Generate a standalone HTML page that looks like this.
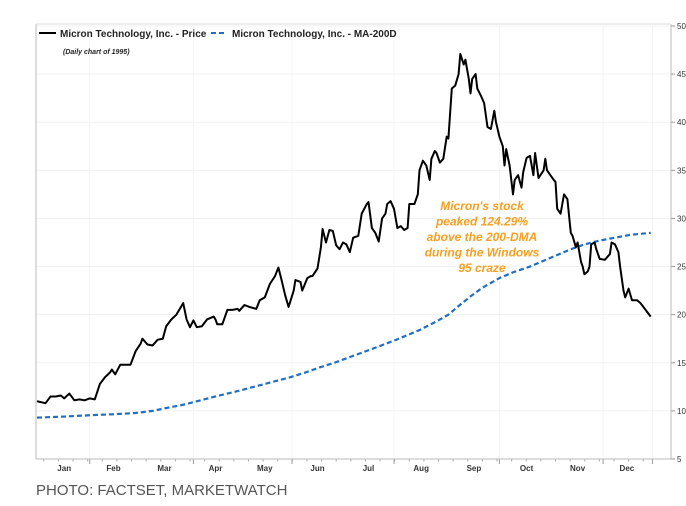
<!DOCTYPE html>
<html><head><meta charset="utf-8"><style>
body{margin:0;background:#fff;width:686px;height:506px;overflow:hidden;font-family:"Liberation Sans",sans-serif}
svg{position:absolute;left:0;top:0}
</style></head><body>
<svg id="chart" width="686" height="506" xmlns="http://www.w3.org/2000/svg"></svg>
<script>
const priceDays=[0,5,8,11,14,16,19,22,25,28,31,34,37,40,43,44,46,49,52,55,58,61,62,65,68,71,74,76,79,82,86,88,90,92,94,97,100,104,105,106,109,112,115,118,119,122,125,129,131,134,137,140,142,144,146,148,151,152,155,156,159,161,162,165,167,168,170,172,174,176,178,180,182,184,186,189,191,194,195,197,199,201,203,205,206,208,210,212,214,216,218,219,222,224,225,227,229,231,232,234,235,237,239,241,242,244,246,248,249,251,252,254,255,256,258,259,261,263,265,267,269,270,272,274,275,276,278,280,281,283,285,286,288,290,292,293,295,298,299,300,302,304,305,306,308,310,312,314,315,317,318,320,321,322,324,325,326,328,329,331,334,337,338,340,342,343,345,346,348,350,353,355,358,361];
const priceValues=[11.0,10.8,11.5,11.5,11.6,11.3,11.8,11.1,11.2,11.1,11.3,11.2,12.8,13.5,14.0,14.3,13.8,14.8,14.8,14.8,16.2,17.0,17.5,16.9,16.8,17.4,17.5,18.8,19.5,20.0,21.2,19.5,18.7,19.4,18.7,18.8,19.5,19.8,19.5,19.0,19.0,20.5,20.5,20.6,20.4,21.0,20.8,20.6,21.5,21.8,23.2,24.0,24.9,23.5,22.0,20.8,22.5,23.6,23.4,22.5,23.8,24.0,24.0,24.8,27.0,28.9,27.5,28.8,28.7,27.2,26.8,27.5,27.3,26.5,28.0,28.2,30.5,31.5,31.7,29.0,28.5,27.6,30.0,30.5,31.5,31.8,31.0,29.0,29.2,28.8,29.0,31.5,31.5,32.5,35.0,36.0,35.5,34.0,36.2,37.0,36.8,35.8,36.2,38.5,38.3,43.5,43.8,45.0,47.1,46.0,46.5,44.5,43.0,44.5,45.0,43.5,42.8,42.0,39.5,39.3,41.2,40.0,38.5,37.5,35.5,37.2,35.5,32.5,34.0,34.5,33.2,34.8,36.3,36.5,34.5,36.8,34.2,35.0,36.2,35.0,34.5,34.0,33.8,31.0,30.5,32.5,32.0,28.5,28.2,27.0,27.5,25.5,25.0,24.2,24.5,25.0,27.3,27.5,26.8,25.8,25.7,26.3,27.5,27.3,26.5,25.0,22.5,21.8,22.7,21.5,21.5,21.2,20.5,19.8];
const maDays=[0,15,31,45,58,68,76,85,92,105,119,134,149,158,166,175,181,195,210,225,235,242,248,255,262,272,280,290,302,314,322,331,340,349,361];
const maValues=[9.3,9.4,9.55,9.65,9.78,10.0,10.3,10.6,10.9,11.5,12.1,12.8,13.5,14.0,14.5,15.0,15.4,16.3,17.3,18.4,19.3,20.0,20.9,21.9,22.8,23.8,24.4,25.0,25.9,26.8,27.3,27.7,28.0,28.3,28.5];
const yTicks=[5,10,15,20,25,30,35,40,45,50];
const monthLabels=["Jan","Feb","Mar","Apr","May","Jun","Jul","Aug","Sep","Oct","Nov","Dec"];
const monthLabelDays=[16,45,75,105,134,165,195,226,257,288,318,347];
const majorTickDays=[31,92,150,210,272,333,362];

const L=36,R=671,T=26,B=459;
const x=d=>37+d*1.7;
const y=v=>B-(v-5)/45*(B-T);
const svg=document.getElementById('chart');
const NS='http://www.w3.org/2000/svg';
function mk(tag,attrs,parent){const e=document.createElementNS(NS,tag);for(const k in attrs)e.setAttribute(k,attrs[k]);(parent||svg).appendChild(e);return e;}

yTicks.forEach(v=>{
  const g=mk('line',{x1:L,x2:R,y1:y(v),y2:y(v),stroke:'#f2f2f2','stroke-width':1});
  
  
  mk('line',{x1:R,x2:R+4,y1:y(v),y2:y(v),stroke:'#999'});
  const t=mk('text',{x:R+6,y:y(v)+3,'font-size':8,fill:'#333'});
  t.textContent=v;
  
  
});
majorTickDays.forEach(d=>{
  const g=mk('line',{x1:x(d),x2:x(d),y1:T,y2:B,stroke:'#f4f4f4'});
  
  
  mk('line',{x1:x(d),x2:x(d),y1:B,y2:B+5,stroke:'#999'});
});
for(let d=4;d<362;d+=8.6){mk('line',{x1:x(d),x2:x(d),y1:B,y2:B+2.5,stroke:'#aaa'});}
monthLabels.forEach((m,i)=>{
  const t=mk('text',{x:x(monthLabelDays[i]),y:B+12,'font-size':8,'font-weight':'bold',fill:'#333','text-anchor':'middle'});
  t.textContent=m;
  
  
});
mk('line',{x1:L,x2:L,y1:T-2,y2:B,stroke:'#bbb'});
mk('line',{x1:R,x2:R,y1:T-2,y2:B,stroke:'#bbb'});
mk('line',{x1:L,x2:R,y1:T-2,y2:T-2,stroke:'#ddd'});
mk('line',{x1:L,x2:R,y1:B,y2:B,stroke:'#bbb'});

const ma=mk('path',{d:maDays.map((d,i)=>(i?'L':'M')+x(d)+','+y(maValues[i])).join(''),fill:'none',stroke:'#1f6fc5','stroke-width':2.2,'stroke-dasharray':'5,3','stroke-linejoin':'round'});


const pr=mk('path',{d:priceDays.map((d,i)=>(i?'L':'M')+x(d)+','+y(priceValues[i])).join(''),fill:'none',stroke:'#000','stroke-width':2,'stroke-linejoin':'round'});



const lg=mk('g',{});


mk('line',{x1:39,x2:56,y1:33,y2:33,stroke:'#000','stroke-width':2},lg);
let t=mk('text',{x:60,y:37,'font-size':10,'font-weight':'bold',fill:'#222'},lg);t.textContent='Micron Technology, Inc. - Price';


mk('line',{x1:211,x2:227,y1:33,y2:33,stroke:'#1f6fc5','stroke-width':2,'stroke-dasharray':'5,3'},lg);
t=mk('text',{x:232,y:37,'font-size':10,'font-weight':'bold',fill:'#222'},lg);t.textContent='Micron Technology, Inc. - MA-200D';


t=mk('text',{x:63,y:54,'font-size':7,'font-style':'italic','font-weight':'bold',fill:'#222'});t.textContent='(Daily chart of 1995)';



const an=mk('text',{'font-size':12,'font-style':'italic','font-weight':'bold',fill:'#f5a020','text-anchor':'middle'});


["Micron's stock","peaked 124.29%","above the 200-DMA","during the Windows","95 craze"].forEach((s,i)=>{const ts=mk('tspan',{x:482,y:210+i*15.5},an);ts.textContent=s;});

t=mk('text',{x:36,y:495,'font-size':15,fill:'#555'});t.textContent='PHOTO: FACTSET, MARKETWATCH';


</script>
</body></html>
